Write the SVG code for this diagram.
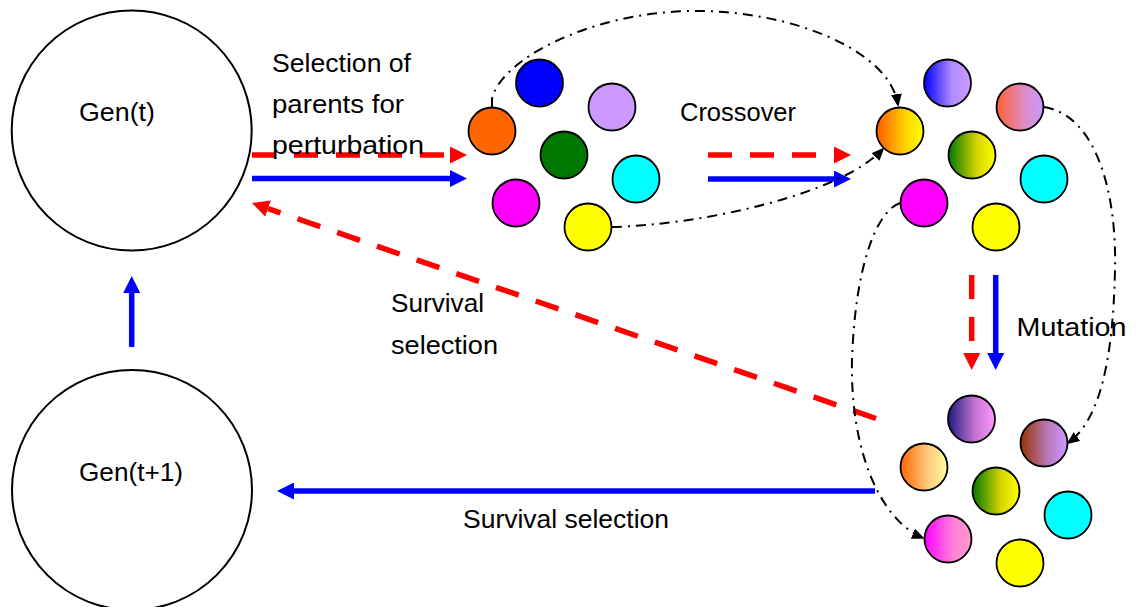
<svg xmlns="http://www.w3.org/2000/svg" width="1136" height="607" viewBox="0 0 1136 607">
<style>
.big{fill:#fff;stroke:#000;stroke-width:2}
.c{stroke:#000;stroke-width:1.8}
.t{font-family:"Liberation Sans",Arial,sans-serif;font-size:26px;fill:#000}
.red{fill:none;stroke:#f00;stroke-width:5.5;stroke-dasharray:24 18}
.blue{fill:none;stroke:#00f;stroke-width:5.5}
.dd{fill:none;stroke:#000;stroke-width:2;stroke-dasharray:10 6 2 6}
</style>
<defs>
<marker id="rh" markerUnits="userSpaceOnUse" viewBox="0 0 17 17" refX="0" refY="8.5" markerWidth="17" markerHeight="17" orient="auto"><path d="M0,0 L17,8.5 L0,17 Z" fill="#f00"/></marker>
<marker id="bh" markerUnits="userSpaceOnUse" viewBox="0 0 17 17" refX="0" refY="8.5" markerWidth="17" markerHeight="17" orient="auto"><path d="M0,0 L17,8.5 L0,17 Z" fill="#00f"/></marker>
<marker id="kh" markerUnits="userSpaceOnUse" viewBox="0 0 13 11" refX="11" refY="5.5" markerWidth="13" markerHeight="11" orient="auto"><path d="M0,0 L13,5.5 L0,11 Z" fill="#000"/></marker>
<linearGradient id="gOY" x1="0" x2="1" y1="0" y2="0"><stop offset="0" stop-color="#ff5a00"/><stop offset="0.6" stop-color="#ffd000"/><stop offset="1" stop-color="#ffff00"/></linearGradient>
<linearGradient id="gBL" x1="0" x2="1" y1="0" y2="0"><stop offset="0" stop-color="#0000ff"/><stop offset="0.6" stop-color="#b38cff"/><stop offset="1" stop-color="#cc99ff"/></linearGradient>
<linearGradient id="gCL" x1="0" x2="1" y1="0" y2="0"><stop offset="0" stop-color="#ff6030"/><stop offset="0.6" stop-color="#de8cc8"/><stop offset="1" stop-color="#cc99ff"/></linearGradient>
<linearGradient id="gGY" x1="0" x2="1" y1="0" y2="0"><stop offset="0" stop-color="#007700"/><stop offset="0.6" stop-color="#d4d400"/><stop offset="1" stop-color="#ffff00"/></linearGradient>
<linearGradient id="gNP" x1="0" x2="1" y1="0" y2="0"><stop offset="0" stop-color="#1a1a80"/><stop offset="0.55" stop-color="#c070d0"/><stop offset="1" stop-color="#ff99ff"/></linearGradient>
<linearGradient id="gBrL" x1="0" x2="1" y1="0" y2="0"><stop offset="0" stop-color="#993300"/><stop offset="0.6" stop-color="#bb7ac0"/><stop offset="1" stop-color="#cc99ff"/></linearGradient>
<linearGradient id="gOLY" x1="0" x2="1" y1="0" y2="0"><stop offset="0" stop-color="#ff6600"/><stop offset="0.6" stop-color="#ffcc80"/><stop offset="1" stop-color="#ffff99"/></linearGradient>
<linearGradient id="gMP" x1="0" x2="1" y1="0" y2="0"><stop offset="0" stop-color="#ff00ff"/><stop offset="0.6" stop-color="#ff80d8"/><stop offset="1" stop-color="#ff99cc"/></linearGradient>
</defs>
<rect width="1136" height="607" fill="#fff"/>

<g id="connectors">
<path class="red" d="M252,155 L450,155" marker-end="url(#rh)"/>
<path class="blue" d="M252,178.5 L450,178.5" marker-end="url(#bh)"/>
<path class="red" d="M708,155 L834,155" marker-end="url(#rh)"/>
<path class="blue" d="M708,179 L834,179" marker-end="url(#bh)"/>
<path class="red" d="M971.7,275 L971.7,353" marker-end="url(#rh)"/>
<path class="blue" d="M995.7,275 L995.7,353" marker-end="url(#bh)"/>
<path class="red" d="M876,418.5 L268.1,208.6" marker-end="url(#rh)"/>
<path class="blue" d="M875,491 L294,491" marker-end="url(#bh)"/>
<path class="blue" d="M131.7,347 L131.7,293" marker-end="url(#bh)"/>
<path class="dd" d="M492,107 L492,99 C500,60 590,12 693,11 C790,10 890,50 898,105" marker-end="url(#kh)"/>
<path class="dd" d="M612,227 C700,225 840,195 883,149" marker-end="url(#kh)"/>
<path class="dd" d="M1044,107 C1095,115 1117,190 1115,270 C1113,360 1100,420 1068,443" marker-end="url(#kh)"/>
<path class="dd" d="M900,203 C875,212 855,270 852,360 C850,450 880,520 923,538" marker-end="url(#kh)"/>
</g>

<g id="gen-t">
<circle class="big" cx="131.7" cy="130.5" r="120"/>
<text class="t" x="79" y="121" textLength="76" lengthAdjust="spacingAndGlyphs">Gen(t)</text>
</g>
<g id="gen-t1">
<circle class="big" cx="132" cy="490" r="120"/>
<text class="t" x="79" y="481" textLength="104" lengthAdjust="spacingAndGlyphs">Gen(t+1)</text>
</g>

<g id="parents">
<circle class="c" cx="492" cy="131" r="23.5" fill="#ff6600"/>
<circle class="c" cx="539.5" cy="83" r="23.5" fill="#0000ff"/>
<circle class="c" cx="612" cy="107" r="23.5" fill="#cc99ff"/>
<circle class="c" cx="564" cy="155" r="23.5" fill="#007700"/>
<circle class="c" cx="636" cy="179" r="23.5" fill="#00ffff"/>
<circle class="c" cx="516" cy="203" r="23.5" fill="#ff00ff"/>
<circle class="c" cx="588" cy="227" r="23.5" fill="#ffff00"/>
</g>

<g id="offspring">
<circle class="c" cx="900" cy="131" r="23.5" fill="url(#gOY)"/>
<circle class="c" cx="947.5" cy="83" r="23.5" fill="url(#gBL)"/>
<circle class="c" cx="1020" cy="107" r="23.5" fill="url(#gCL)"/>
<circle class="c" cx="972" cy="155" r="23.5" fill="url(#gGY)"/>
<circle class="c" cx="1044" cy="179" r="23.5" fill="#00ffff"/>
<circle class="c" cx="924" cy="203" r="23.5" fill="#ff00ff"/>
<circle class="c" cx="996" cy="227" r="23.5" fill="#ffff00"/>
</g>

<g id="mutants">
<circle class="c" cx="924" cy="467" r="23.5" fill="url(#gOLY)"/>
<circle class="c" cx="971.5" cy="419" r="23.5" fill="url(#gNP)"/>
<circle class="c" cx="1044" cy="443" r="23.5" fill="url(#gBrL)"/>
<circle class="c" cx="996" cy="491" r="23.5" fill="url(#gGY)"/>
<circle class="c" cx="1068" cy="515" r="23.5" fill="#00ffff"/>
<circle class="c" cx="948" cy="539" r="23.5" fill="url(#gMP)"/>
<circle class="c" cx="1020" cy="563" r="23.5" fill="#ffff00"/>
</g>

<g id="labels">
<text class="t" x="272" y="72" textLength="139" lengthAdjust="spacingAndGlyphs">Selection of</text>
<text class="t" x="272" y="113" textLength="132" lengthAdjust="spacingAndGlyphs">parents for</text>
<text class="t" x="272" y="154" textLength="152" lengthAdjust="spacingAndGlyphs">perturbation</text>
<text class="t" x="680" y="121" textLength="116" lengthAdjust="spacingAndGlyphs">Crossover</text>
<text class="t" x="1016.5" y="336" textLength="110" lengthAdjust="spacingAndGlyphs">Mutation</text>
<text class="t" x="391" y="312" textLength="93" lengthAdjust="spacingAndGlyphs">Survival</text>
<text class="t" x="391" y="354" textLength="107" lengthAdjust="spacingAndGlyphs">selection</text>
<text class="t" x="463" y="528" textLength="206" lengthAdjust="spacingAndGlyphs">Survival selection</text>
</g>
</svg>
